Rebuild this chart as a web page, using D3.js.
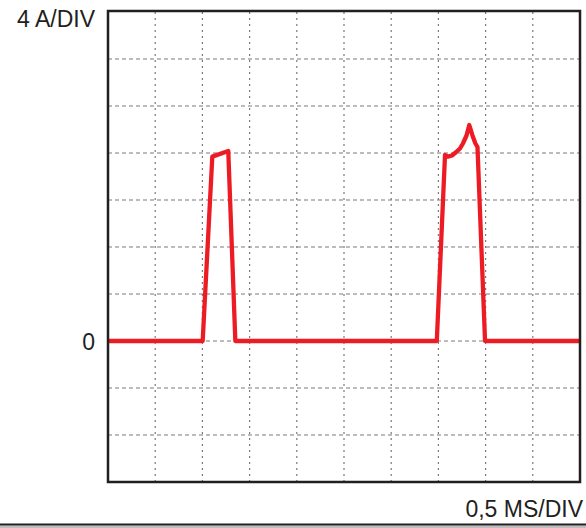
<!DOCTYPE html>
<html>
<head>
<meta charset="utf-8">
<script src="https://cdn.jsdelivr.net/npm/d3@7"></script>
<style>
  html, body { margin: 0; padding: 0; background: #fff; }
  svg { display: block; }
  text { font-family: "Liberation Sans", Arial, sans-serif; fill: #231f20; }
</style>
</head>
<body>
<svg width="586" height="528"></svg>
<script>
// time in ms, current in A
var timeMs = [0, 1.003, 1.105, 1.274, 1.349, 3.483, 3.570, 3.599, 3.644, 3.686, 3.729, 3.761, 3.798, 3.827, 3.861, 3.891, 3.914, 3.994, 5];
var currentA = [0, 0, 15.69, 16.17, 0, 0, 15.83, 15.69, 15.79, 16.06, 16.38, 16.83, 17.49, 18.38, 17.49, 16.83, 16.51, 0, 0];
var xDomain = [0, 5];      // 10 div x 0,5 ms
var yDomain = [-12, 28];   // 10 div x 4 A
var yLabel = "4 A/DIV";
var xLabel = "0,5 MS/DIV";
var zeroLabel = "0";

var svg = d3.select("svg"),
    width = +svg.attr("width"),
    height = +svg.attr("height");

var plotLeft = 108, plotRight = 580, plotTop = 12, plotBottom = 482;

var x = d3.scaleLinear().domain(xDomain).range([plotLeft, plotRight]);
var y = d3.scaleLinear().domain(yDomain).range([plotBottom, plotTop]);

var grid = svg.append("g").attr("class", "grid");
grid.selectAll("line.v")
  .data(d3.range(xDomain[0] + 0.5, xDomain[1], 0.5))
  .enter().append("line")
  .attr("class", "v")
  .attr("x1", function(d) { return x(d); })
  .attr("x2", function(d) { return x(d); })
  .attr("y1", plotTop).attr("y2", plotBottom)
  .attr("stroke", "#7a7a7a")
  .attr("stroke-width", 1.2)
  .attr("stroke-dasharray", "2,4");

grid.selectAll("line.h")
  .data(d3.range(yDomain[0] + 4, yDomain[1], 4))
  .enter().append("line")
  .attr("class", "h")
  .attr("y1", function(d) { return y(d); })
  .attr("y2", function(d) { return y(d); })
  .attr("x1", plotLeft).attr("x2", plotRight)
  .attr("stroke", "#7a7a7a")
  .attr("stroke-width", 1.2)
  .attr("stroke-dasharray", "4,3");

var data = timeMs.map(function(t, i) { return { t: t, a: currentA[i] }; });

var line = d3.line()
  .x(function(d) { return x(d.t); })
  .y(function(d) { return y(d.a); });

svg.append("path")
  .datum(data)
  .attr("fill", "none")
  .attr("stroke", "#ed1c24")
  .attr("stroke-width", 4.3)
  .attr("stroke-linejoin", "round")
  .attr("d", line);

// frame
svg.append("rect")
  .attr("x", plotLeft).attr("y", plotTop - 1)
  .attr("width", plotRight - plotLeft).attr("height", plotBottom - plotTop + 1)
  .attr("fill", "none")
  .attr("stroke", "#231f20")
  .attr("stroke-width", 2.5);

svg.append("text")
  .attr("x", 95).attr("y", 27)
  .attr("text-anchor", "end")
  .style("font-size", "23px")
  .text(yLabel);

svg.append("text")
  .attr("x", 95).attr("y", y(0) + 9)
  .attr("text-anchor", "end")
  .style("font-size", "23px")
  .text(zeroLabel);

svg.append("text")
  .attr("x", 583).attr("y", 517)
  .attr("text-anchor", "end")
  .style("font-size", "23px")
  .text(xLabel);

// bottom rule
svg.append("rect")
  .attr("x", 0).attr("y", 523.5)
  .attr("width", width).attr("height", 2.2)
  .attr("fill", "#231f20");
svg.append("rect")
  .attr("x", 0).attr("y", 525.7)
  .attr("width", width).attr("height", height - 525.7)
  .attr("fill", "#bdbdbd");
</script>
</body>
</html>
